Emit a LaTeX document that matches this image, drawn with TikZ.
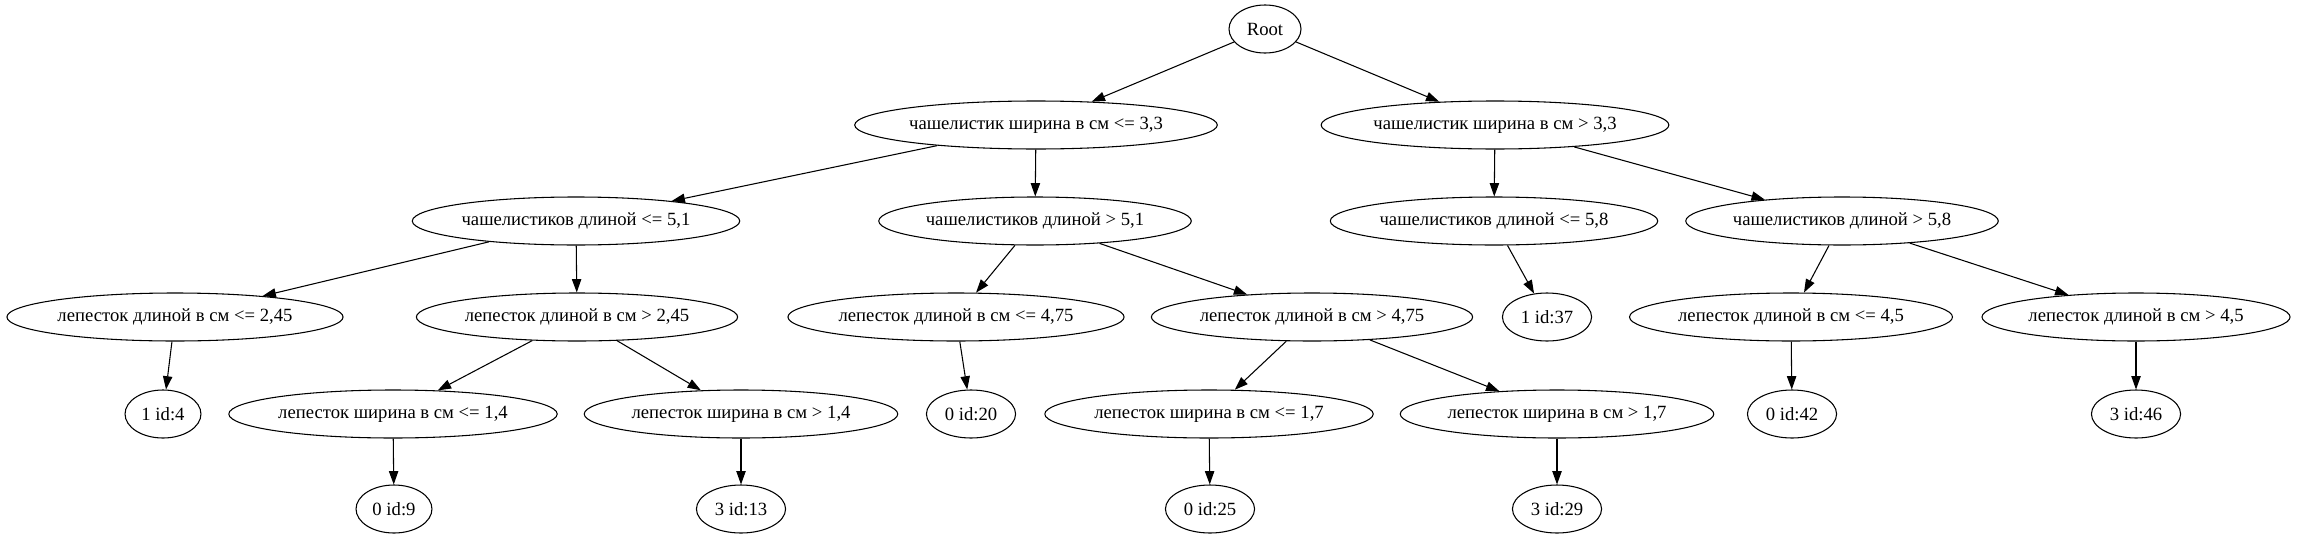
\documentclass[tikz,border=0pt]{standalone}
\usepackage{fontspec}
\setmainfont{Liberation Serif}
\usetikzlibrary{arrows.meta,shapes.geometric}
\tikzset{
  split/.style={draw, ellipse, line width=0.8pt, inner xsep=1pt, minimum height=36pt, font=\fontsize{14}{16}\selectfont},
  leaf/.style={split, inner xsep=4pt, minimum width=54pt},
  edge/.style={line width=0.8pt, -{Triangle[length=10pt,width=7pt]}}
}
\begin{document}
\begin{tikzpicture}[x=0.75pt, y=-0.75pt]
    \useasboundingbox (0,0) rectangle (2297,539);
      % root and first split
      \node[leaf] (root) at (1265,29) {Root};
      \node[split] (a) at (1036,125) {чашелистик ширина в см <= 3,3};
      \node[split] (b) at (1495,125) {чашелистик ширина в см > 3,3};
      % second level
      \node[split] (aa) at (576,221) {чашелистиков длиной <= 5,1};
      \node[split] (ab) at (1035,221) {чашелистиков длиной > 5,1};
      \node[split] (ba) at (1494,221) {чашелистиков длиной <= 5,8};
      \node[split] (bb) at (1842,221) {чашелистиков длиной > 5,8};
      % third level
      \node[split] (aaa) at (175,317) {лепесток длиной в см <= 2,45};
      \node[split] (aab) at (577,317) {лепесток длиной в см > 2,45};
      \node[split] (aba) at (956,317) {лепесток длиной в см <= 4,75};
      \node[split] (abb) at (1312,317) {лепесток длиной в см > 4,75};
      \node[leaf] (baa) at (1547,317) {1 id:37};
      \node[split] (bba) at (1791,317) {лепесток длиной в см <= 4,5};
      \node[split] (bbb) at (2136,317) {лепесток длиной в см > 4,5};
      % fourth level
      \node[leaf] (aaaa) at (163,414) {1 id:4};
      \node[split] (aaba) at (393,414) {лепесток ширина в см <= 1,4};
      \node[split] (aabb) at (741,414) {лепесток ширина в см > 1,4};
      \node[leaf] (abaa) at (971,414) {0 id:20};
      \node[split] (abba) at (1209,414) {лепесток ширина в см <= 1,7};
      \node[split] (abbb) at (1557,414) {лепесток ширина в см > 1,7};
      \node[leaf] (bbaa) at (1792,414) {0 id:42};
      \node[leaf] (bbba) at (2136,414) {3 id:46};
      % leaves
      \node[leaf] (aabaa) at (394,509) {0 id:9};
      \node[leaf] (aabba) at (741,509) {3 id:13};
      \node[leaf] (abbaa) at (1210,509) {0 id:25};
      \node[leaf] (abbba) at (1557,509) {3 id:29};
      % edges
      \foreach \p/\c in {root/a,root/b,a/aa,a/ab,b/ba,b/bb,aa/aaa,aa/aab,ab/aba,ab/abb,ba/baa,bb/bba,bb/bbb,
        aaa/aaaa,aab/aaba,aab/aabb,aba/abaa,abb/abba,abb/abbb,bba/bbaa,bbb/bbba,
        aaba/aabaa,aabb/aabba,abba/abbaa,abbb/abbba} {
        \draw[edge] (\p) -- (\c);
      }
    \end{tikzpicture}
\end{document}
